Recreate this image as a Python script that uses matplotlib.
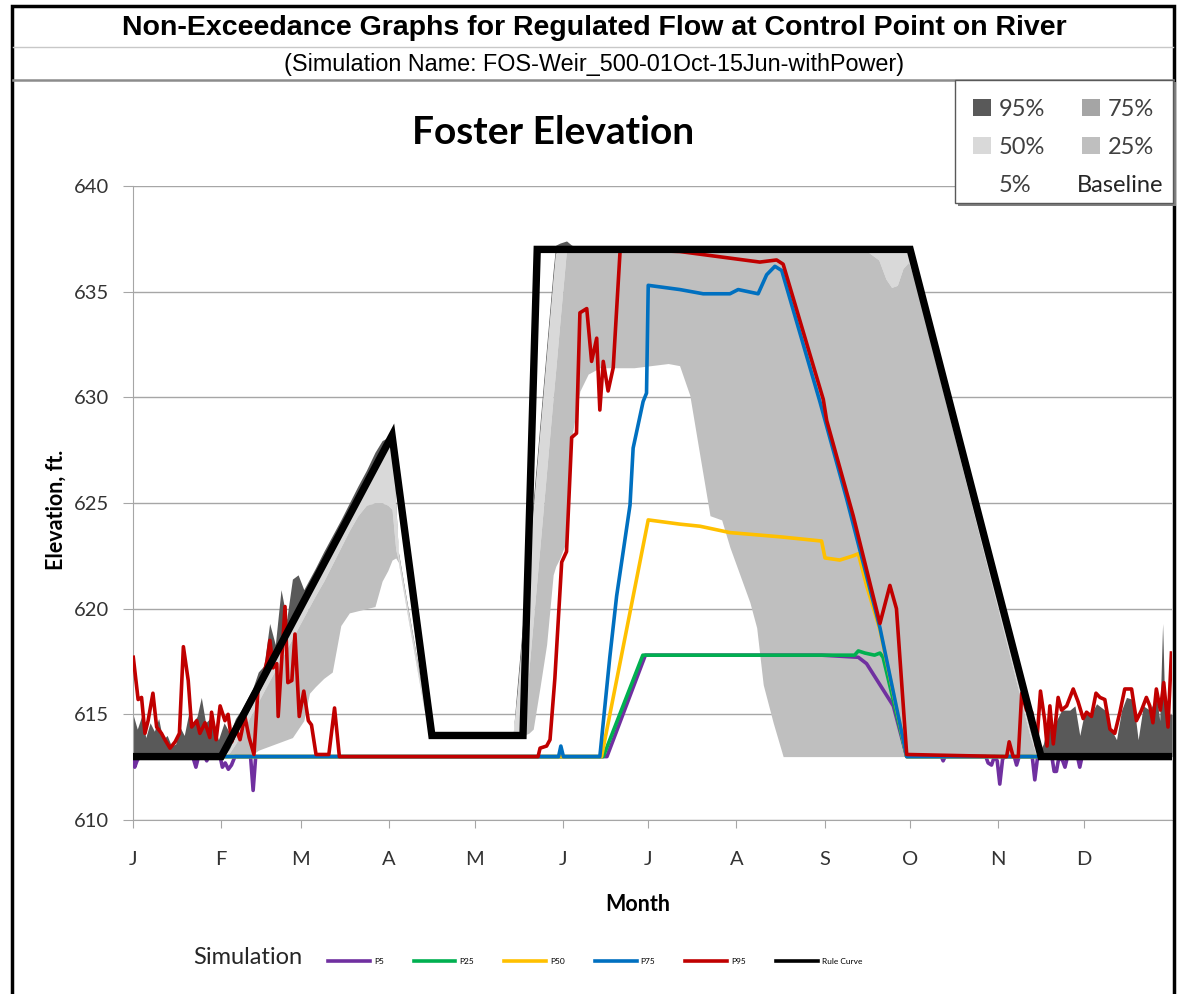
import matplotlib
matplotlib.use('Agg')
import matplotlib.pyplot as plt
from matplotlib.patches import Rectangle, Patch
from matplotlib.lines import Line2D

plt.rcParams['font.family'] = ['Lato', 'DejaVu Sans']

# ---------------- data (day of year, elevation in ft) ----------------
month_days = [0, 31, 59, 90, 120, 151, 181, 212, 243, 273, 304, 334]
month_labels = ['J', 'F', 'M', 'A', 'M', 'J', 'J', 'A', 'S', 'O', 'N', 'D']
elev_ticks = [610, 615, 620, 625, 630, 635, 640]

# rule curve
rule_days = [0, 31, 91, 105, 137, 142, 273, 319, 365]
rule_elev = [613.0, 613.0, 628.2, 614.0, 614.0, 637.0, 637.0, 613.0, 613.0]

# baseline percentiles (shared day grid)
base_days = ([0, 1.5, 3, 4.5, 6, 7.5, 9, 10.5, 12, 13.5, 15, 16.5, 18, 19.5, 21, 22.5, 24, 25.5, 27, 28.5, 30]
             + [32, 34, 36, 38, 40, 42, 44, 46, 48, 50, 52, 54, 56, 58, 60, 62, 64, 67, 70, 73, 76, 79, 82, 85, 87.5, 89.5]
             + [91, 92.3, 93.2, 96, 99, 102, 104.2]
             + [105, 115, 125, 133.5]
             + [135, 137, 139, 140.6, 143, 145.3, 147.6, 148.5, 150, 152.3, 154.1, 157, 159.9, 164]
             + [170, 176, 182, 188, 192, 195.6, 199.2, 202.7, 206.8, 209.7, 213.2, 216.7, 219.1, 221.4, 224.9, 228.4]
             + [235, 245, 255, 258, 262, 264.5, 266.5, 268.5, 270.5]
             + [272.5, 275, 280, 285, 290, 295, 300, 305, 310, 315, 317.5]
             + [319.8, 321.5, 323.3, 324.4, 326.2, 329.1, 330.9, 332.6, 334.4, 336.1, 338.5, 341.4, 343.2,
                345.5, 347.3, 349.0, 351.4, 353.1, 354.9, 357.2, 359.6, 360.7, 361.7, 362.5, 364.2, 365])

base_p95 = ([615.0, 614.3, 614.9, 613.9, 614.6, 614.2, 614.8, 613.8, 614.0, 613.5, 613.6, 614.4, 614.0, 615.0,
             614.6, 614.9, 615.8, 614.6, 614.8, 614.4, 613.8]
            + [614.6, 614.1, 614.8, 615.2, 615.7, 616.2, 617.0, 617.3, 619.3, 618.3, 620.9, 619.5, 621.4, 621.6,
               620.9, 621.4, 621.9, 622.7, 623.45, 624.2, 625.0, 625.8, 626.55, 627.4, 627.95, 628.1]
            + [628.0, 625.0, 622.7, 620.5, 618.2, 615.8, 614.1]
            + [614.0, 614.0, 614.0, 614.0]
            + [616.4, 619.5, 622.6, 625.1, 628.8, 632.4, 636.0, 637.2, 637.3, 637.4, 637.2, 637.1, 637.0, 637.0]
            + [637.0] * 16
            + [637.0] * 9
            + [637.0, 635.67, 633.0, 630.33, 627.67, 625.0, 622.33, 619.67, 617.0, 614.33, 613.0]
            + [613.6, 614.6, 613.9, 614.7, 615.2, 615.2, 615.4, 614.0, 615.2, 614.9, 615.5, 615.2, 614.4,
               613.8, 615.2, 615.8, 615.7, 613.8, 615.4, 615.2, 615.8, 614.7, 619.3, 615.2, 615.0, 615.0])

base_p75 = ([613.0] * 21
            + [613.0, 613.4, 614.0, 614.5, 615.0, 615.5, 616.0, 616.55, 617.1, 617.6, 618.1, 618.6, 619.15,
               619.65, 620.2, 620.7, 621.2, 622.0, 622.75, 623.5, 624.3, 625.05, 625.85, 626.6, 627.25, 627.75]
            + [627.9, 624.8, 622.6, 620.4, 618.1, 615.7, 614.05]
            + [614.0, 614.0, 614.0, 614.0]
            + [616.0, 619.1, 622.2, 624.7, 628.4, 632.0, 635.6, 636.9, 637.0, 637.0, 637.0, 637.0, 637.0, 637.0]
            + [637.0] * 16
            + [637.0] * 9
            + [636.95, 635.62, 632.95, 630.28, 627.62, 624.95, 622.28, 619.62, 616.95, 614.28, 613.0]
            + [613.0] * 26)

base_p50 = ([613.0] * 21
            + [613.0, 613.35, 613.95, 614.45, 614.95, 615.45, 615.95, 616.5, 617.05, 617.55, 618.05, 618.55,
               619.1, 619.6, 620.15, 620.65, 621.15, 621.95, 622.7, 623.45, 624.25, 625.0, 625.8, 626.55,
               627.2, 627.7]
            + [627.8, 624.6, 622.55, 620.35, 618.05, 615.7, 614.05]
            + [614.0, 614.0, 614.0, 614.0]
            + [615.9, 619.0, 622.1, 624.6, 628.3, 631.9, 635.5, 636.8, 636.95, 637.0, 637.0, 637.0, 637.0, 637.0]
            + [637.0] * 16
            + [637.0] * 9
            + [636.9, 635.57, 632.9, 630.23, 627.57, 624.9, 622.23, 619.57, 616.9, 614.23, 613.0]
            + [613.0] * 26)

base_p25 = ([613.0] * 21
            + [613.0, 613.2, 613.6, 614.1, 614.6, 615.1, 615.6, 616.1, 616.6, 617.1, 617.6, 618.1, 618.6, 619.1,
               619.6, 620.1, 620.6, 621.3, 622.1, 622.9, 623.7, 624.4, 624.9, 625.0, 625.0, 624.9]
            + [624.7, 622.8, 622.3, 620.1, 617.8, 615.5, 614.0]
            + [614.0, 614.0, 614.0, 614.0]
            + [614.0, 614.1, 617.0, 619.4, 623.0, 626.5, 630.0, 631.3, 633.6, 637.0, 637.0, 637.0, 637.0, 637.0]
            + [637.0] * 16
            + [637.0, 637.0, 637.0, 636.9, 636.5, 635.6, 635.2, 635.3, 636.1]
            + [636.4, 635.37, 632.7, 630.03, 627.37, 624.7, 622.03, 619.37, 616.7, 614.03, 613.0]
            + [613.0] * 26)

base_p5 = ([613.0] * 21
           + [613.0, 613.0, 613.0, 613.0, 613.0, 613.1, 613.3, 613.4, 613.5, 613.6, 613.7, 613.8, 613.9, 614.3,
              614.7, 616.0, 616.3, 616.7, 617.0, 619.2, 619.8, 619.9, 620.0, 620.1, 621.3, 621.8]
           + [622.3, 622.4, 622.2, 620.0, 617.7, 615.4, 614.0]
           + [614.0, 614.0, 614.0, 614.0]
           + [614.0, 614.0, 614.1, 614.3, 616.3, 618.3, 621.6, 622.0, 622.4, 623.2, 628.1, 630.3, 631.1, 631.4]
           + [631.4, 631.4, 631.5, 631.6, 631.5, 630.1, 627.2, 624.4, 624.2, 622.9, 621.6, 620.3, 619.1,
              616.4, 614.6, 613.0]
           + [613.0] * 9
           + [613.0] * 11
           + [613.0] * 26)

# simulation percentiles
p5_days = [0, 0.6, 1.4, 2.3, 21.0, 22.1, 23.0, 25.2, 25.9, 26.6, 30.6, 31.4, 32.4, 33.5, 34.6, 35.8, 41.3,
           42.2, 43.1, 166.5, 180.0, 241.9, 254.8, 257.7, 262.4, 267.1, 271.8, 284.0, 284.6, 285.3, 299.6,
           300.4, 301.6, 302.6, 303.6, 304.5, 305.5, 306.5, 309.6, 310.4, 311.3, 315.9, 316.8, 317.8, 322.8,
           323.6, 324.4, 325.3, 326.6, 327.4, 328.3, 331.8, 332.6, 333.4, 365]
p5_elev = [613.0, 612.5, 612.8, 613.0, 613.0, 612.5, 613.0, 613.0, 612.8, 613.0, 613.0, 612.5, 612.7, 612.4,
           612.6, 613.0, 613.0, 611.4, 613.0, 613.0, 617.8, 617.8, 617.7, 617.4, 616.4, 615.4, 613.0, 613.0,
           612.8, 613.0, 613.0, 612.7, 612.6, 613.0, 612.8, 611.7, 612.9, 613.0, 613.0, 612.6, 613.0, 613.0,
           611.9, 613.0, 613.0, 612.3, 612.3, 613.0, 612.8, 612.5, 613.0, 613.0, 612.5, 613.0, 613.0]

p25_days = [0, 165.2, 179.1, 253.5, 254.8, 257.1, 260.5, 262.4, 263.5, 271.8, 365]
p25_elev = [613.0, 613.0, 617.8, 617.8, 618.0, 617.9, 617.8, 617.9, 617.7, 613.0, 613.0]

p50_days = [0, 164.6, 181.0, 192.1, 199.2, 209.7, 227.3, 241.9, 243.1, 248.3, 253.0, 254.8, 257.7, 262.4,
            271.8, 365]
p50_elev = [613.0, 613.0, 624.2, 624.0, 623.9, 623.6, 623.4, 623.2, 622.4, 622.3, 622.5, 622.6, 621.1, 619.0,
            613.0, 613.0]

p75_days = [0, 149.5, 150.3, 151.2, 164.0, 167.5, 169.9, 172.2, 174.6, 175.7, 179.2, 180.4, 181.0, 192.1,
            200.3, 209.7, 212.6, 219.6, 222.6, 225.5, 227.9, 241.3, 250.7, 262.4, 271.8, 365]
p75_elev = [613.0, 613.0, 613.5, 613.0, 613.0, 617.7, 620.6, 622.7, 624.9, 627.6, 629.8, 630.2, 635.3, 635.1,
            634.9, 634.9, 635.1, 634.9, 635.8, 636.2, 636.0, 629.8, 625.2, 619.1, 613.0, 613.0]

p95_days = [0.1, 1.8, 3.0, 4.2, 5.3, 7.0, 8.3, 10.0, 11.2, 13.0, 14.8, 16.3, 17.7, 19.4, 20.6, 22.4, 23.5,
            25.3, 27.0, 27.6, 29.2, 30.6, 32.3, 33.4, 34.7, 36.2, 37.6, 39.3, 40.8, 42.5, 44.0, 45.8, 47.2,
            48.1, 49.2, 50.5, 51.0, 53.4, 54.4, 55.8, 56.9, 58.4, 60.0, 61.6, 62.7, 64.3, 68.8, 70.8, 72.5,
            142.3, 143.0, 145.3, 146.5, 148.2, 150.6, 152.3, 154.1, 155.8, 157.0, 159.4, 161.1, 162.9, 164.0,
            165.2, 166.9, 168.7, 171.1, 172.5, 192.1, 220.2, 226.1, 228.4, 242.5, 243.7, 253.0, 262.4, 265.9,
            268.2, 271.8, 306.9, 307.8, 309.2, 311.0, 312.2, 313.9, 315.7, 317.4, 318.8, 320.3, 321.1, 322.1,
            323.3, 325.0, 326.2, 328.0, 330.3, 332.0, 333.8, 335.0, 336.7, 338.3, 339.7, 341.4, 343.2, 344.9,
            346.7, 348.4, 350.8, 352.5, 354.3, 356.0, 357.2, 358.3, 359.5, 360.9, 362.1, 363.6, 364.8]
p95_elev = [617.7, 615.7, 615.8, 614.1, 614.7, 616.0, 614.4, 614.1, 613.8, 613.4, 613.7, 614.1, 618.2, 616.6,
            614.4, 614.7, 614.1, 614.6, 613.9, 615.1, 613.8, 615.4, 614.7, 615.0, 613.7, 614.3, 613.8, 614.9,
            613.9, 613.1, 616.4, 616.8, 617.6, 618.5, 617.2, 617.4, 614.9, 620.1, 616.5, 616.6, 618.8, 614.9,
            616.1, 614.7, 614.5, 613.1, 613.1, 615.3, 613.0,
            613.0, 613.4, 613.5, 613.8, 616.7, 622.2, 622.7, 628.1, 628.3, 634.0, 634.2, 631.7, 632.8, 629.4,
            631.7, 630.3, 631.4, 636.9, 637.0, 636.9, 636.4, 636.5, 636.3, 629.9, 628.9, 624.4, 619.3, 621.1,
            620.0, 613.1, 613.0, 613.7, 613.0, 613.0, 616.0, 615.2, 615.1, 613.5, 616.1, 614.7, 613.5, 615.4,
            613.6, 615.8, 615.2, 615.4, 616.2, 615.6, 614.8, 615.1, 614.9, 616.0, 615.8, 615.7, 614.3, 614.1,
            615.1, 616.2, 616.2, 614.7, 615.2, 615.8, 615.4, 614.6, 616.2, 615.2, 616.5, 614.4, 617.9]

band_colors = {'95%': '#595959', '75%': '#a5a5a5', '50%': '#d9d9d9', '25%': '#bfbfbf', '5%': '#ffffff'}
sim_colors = {'P5': '#7030a0', 'P25': '#00b050', 'P50': '#ffc000', 'P75': '#0070c0', 'P95': '#c00000'}

W, H = 1180, 994


def fx(px):
    return px / W


def fy(py):
    return 1 - py / H


fig = plt.figure(figsize=(W / 100, H / 100), dpi=100)

# header frame and titles
fig.add_artist(Rectangle((fx(12), -0.1), fx(1174) - fx(12), fy(6) + 0.1, fill=False,
                         edgecolor='black', lw=2.5, transform=fig.transFigure))
fig.add_artist(Line2D([fx(13), fx(1173)], [fy(47), fy(47)], color='#c8c8c8', lw=1))
fig.add_artist(Line2D([fx(13), fx(1173)], [fy(80), fy(80)], color='#8c8c8c', lw=1.8))
fig.text(fx(594), fy(28), 'Non-Exceedance Graphs for Regulated Flow at Control Point on River',
         family='Liberation Sans', fontsize=20.5, fontweight='bold', ha='center', va='center')
fig.text(fx(594), fy(64), '(Simulation Name: FOS-Weir_500-01Oct-15Jun-withPower)',
         family='Liberation Sans', fontsize=16.8, ha='center', va='center')

ax = fig.add_axes([fx(133), fy(820), (1172 - 133) / W, (820 - 186) / H])

# baseline bands
ax.fill_between(base_days, base_p75, base_p95, color=band_colors['95%'], lw=0, zorder=1)
ax.fill_between(base_days, base_p50, base_p75, color=band_colors['75%'], lw=0, zorder=1)
ax.fill_between(base_days, base_p25, base_p50, color=band_colors['50%'], lw=0, zorder=1)
ax.fill_between(base_days, base_p5, base_p25, color=band_colors['25%'], lw=0, zorder=1)

# simulation lines
lw = 2.6
ax.plot(p5_days, p5_elev, color=sim_colors['P5'], lw=lw, zorder=3)
ax.plot(p25_days, p25_elev, color=sim_colors['P25'], lw=lw, zorder=3)
ax.plot(p50_days, p50_elev, color=sim_colors['P50'], lw=lw, zorder=3)
ax.plot(p75_days, p75_elev, color=sim_colors['P75'], lw=lw, zorder=3)
ax.plot(p95_days, p95_elev, color=sim_colors['P95'], lw=lw, zorder=3)
ax.plot(rule_days, rule_elev, color='black', lw=5.3, zorder=4, solid_joinstyle='miter')

ax.set_xlim(0, 365)
ax.set_ylim(610, 640)
ax.set_yticks(elev_ticks)
ax.set_xticks(month_days)
ax.set_xticklabels(month_labels)
ax.grid(axis='y', color='#a6a6a6', lw=1)
ax.set_axisbelow(True)
for s in ['top', 'right']:
    ax.spines[s].set_visible(False)
for s in ['left', 'bottom']:
    ax.spines[s].set_color('#a6a6a6')
ax.tick_params(axis='y', length=7, color='#a6a6a6', pad=10, labelsize=14.5, labelcolor='#333333')
ax.tick_params(axis='x', length=6, color='#a6a6a6', pad=16, labelsize=14.5, labelcolor='#333333')
ax.set_ylabel('Elevation, ft.', fontsize=15.5, fontweight='bold')
ax.yaxis.set_label_coords((67 - 133) / 1039, (820 - 510) / 634)
ax.set_xlabel('Month', fontsize=15.5, fontweight='bold')
ax.xaxis.set_label_coords((638 - 133) / 1039, -(894 - 820) / 634)

fig.text(fx(553), fy(133), 'Foster Elevation', fontsize=28, fontweight='bold', ha='center', va='center')

# baseline legend box (top right)
fig.add_artist(Rectangle((fx(958), fy(206)), fx(1176) - fx(958), fy(82) - fy(206),
                         facecolor='#7f7f7f', edgecolor='none', transform=fig.transFigure, zorder=5))
fig.add_artist(Rectangle((fx(955), fy(203)), fx(1173) - fx(955), fy(80) - fy(203),
                         facecolor='white', edgecolor='#595959', lw=1, transform=fig.transFigure, zorder=6))
left_items = ['95%', '50%', '5%']
right_items = ['75%', '25%']
leg_kw = dict(frameon=False, fontsize=17, handlelength=0.75, handleheight=0.75, handletextpad=0.35,
              labelspacing=0.72, borderaxespad=0, borderpad=0)
leg1 = fig.legend([Patch(facecolor=band_colors[k], edgecolor='none') for k in left_items], left_items,
                  loc='upper left', bbox_to_anchor=(fx(973), fy(99)), **leg_kw)
leg2 = fig.legend([Patch(facecolor=band_colors[k], edgecolor='none') for k in right_items], right_items,
                  loc='upper left', bbox_to_anchor=(fx(1082), fy(99)), **leg_kw)
leg1.set_zorder(7)
leg2.set_zorder(7)
for leg in (leg1, leg2):
    for t in leg.get_texts():
        t.set_color('#404040')
fig.text(fx(1077), fy(186), 'Baseline', fontsize=17, color='#262626', va='center', zorder=7)

# simulation legend (bottom)
fig.text(fx(193), fy(958), 'Simulation', fontsize=17, color='#262626', va='center')
sim_handles = [Line2D([], [], color=sim_colors[k], lw=2.6) for k in sim_colors]
sim_handles.append(Line2D([], [], color='black', lw=2.6))
fig.legend(sim_handles, list(sim_colors) + ['Rule Curve'], loc='center left',
           bbox_to_anchor=(fx(328), fy(961)), ncol=6, frameon=False, fontsize=6,
           handlelength=5.0, handletextpad=0.5, columnspacing=3.6, borderaxespad=0, borderpad=0)

fig.savefig('out.png', dpi=100, facecolor='white')
